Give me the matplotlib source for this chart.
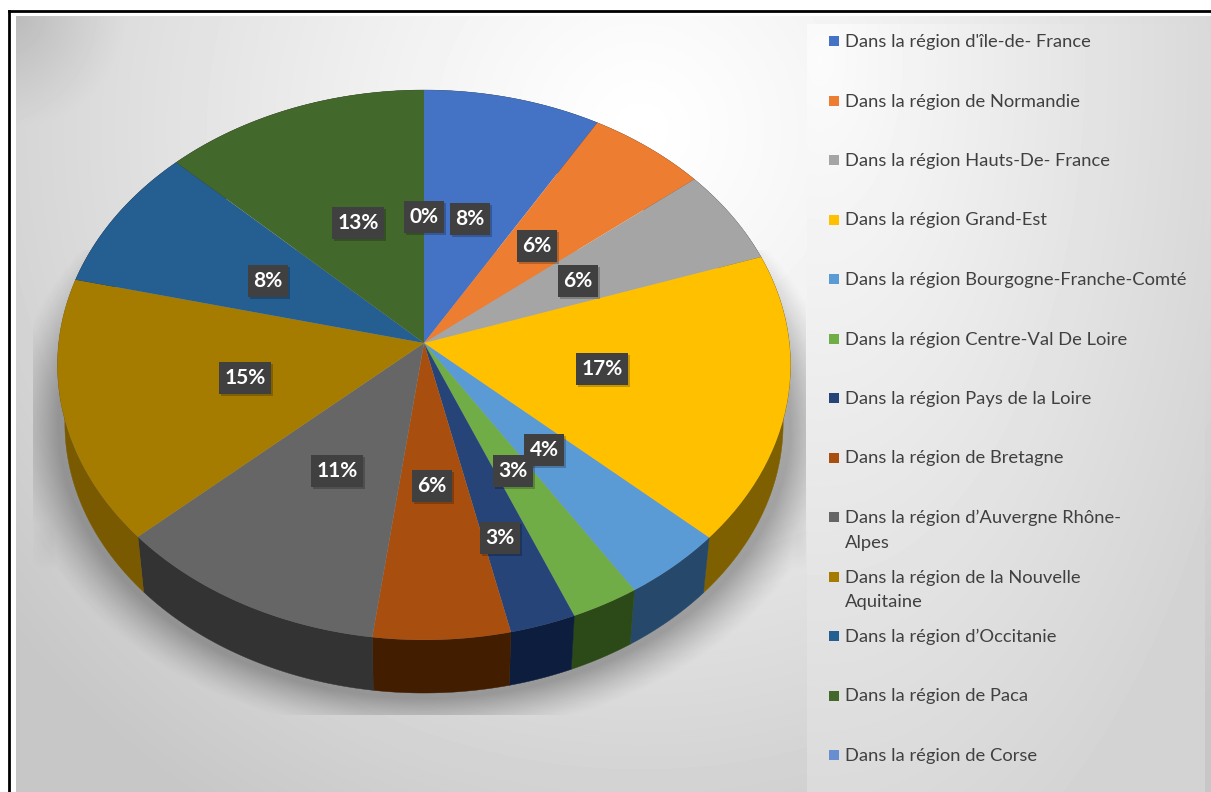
import numpy as np
import matplotlib
matplotlib.use('Agg')
import matplotlib.pyplot as plt
from matplotlib.transforms import Transform
from matplotlib.patches import Rectangle

# parts du camembert
regions = ["Dans la région d'île-de- France", 'Dans la région de Normandie',
           'Dans la région Hauts-De- France', 'Dans la région Grand-Est',
           'Dans la région Bourgogne-Franche-Comté', 'Dans la région Centre-Val De Loire',
           'Dans la région Pays de la Loire', 'Dans la région de Bretagne',
           'Dans la région d’Auvergne Rhône-\nAlpes', 'Dans la région de la Nouvelle\nAquitaine',
           'Dans la région d’Occitanie', 'Dans la région de Paca', 'Dans la région de Corse']
parts = [8.46, 5.7, 5.6, 17.0, 4.2, 2.8, 2.7, 5.6, 11.2, 15.5, 8.5, 12.7, 0.0]
etiquettes = ['8%', '6%', '6%', '17%', '4%', '3%', '3%', '6%', '11%', '15%', '8%', '13%', '0%']

couleurs = ['#4472c4', '#ed7d31', '#a5a5a5', '#ffc000', '#5b9bd5', '#70ad47', '#264478',
            '#a84f10', '#666666', '#a67c00', '#255e91', '#43682b', '#698ed0']
couleurs_cote = ['#223962', '#773f18', '#535353', '#7f6000', '#26486a', '#2b4a17', '#0c1d3d',
                 '#421d00', '#333333', '#7a5a00', '#132f49', '#223415', '#344768']
pos_etiquettes = [(470, 219), (537, 246), (578, 281), (602, 369), (544, 450), (513, 471), (500, 538),
                  (432, 486), (337, 471), (245, 378), (268, 281), (358, 223), (424, 217)]

W, H = 1211, 792
CX, CY = 424, 343


class Perspective(Transform):
    # disque unite -> pixels, plan incline (bas=True pour le dessous du camembert)
    input_dims = output_dims = 2

    def __init__(self, bas=False):
        super().__init__()
        self.bas = bas

    def transform_non_affine(self, xy):
        xy = np.asarray(xy, dtype=float)
        w = 1 + 0.08 * xy[:, 1]
        px = 365.3 * xy[:, 0] / w
        py = -273.2 * xy[:, 1] / w
        if self.bas:
            px = px * 0.98
            py = py * 0.98 + 59
        return np.column_stack([CX + px, CY + py])


fig = plt.figure(figsize=(W / 100, H / 100), dpi=100, facecolor='white')
ax = fig.add_axes([0, 0, 1, 1])

# fond degrade
yy, xx = np.mgrid[0:H, 0:W]
d = np.sqrt((xx - 640.0) ** 2 + (yy - 130.0) ** 2)
fond = np.clip(1.0 - 0.22 * (d / 800) ** 1.2, 0.78, 1)
# coin haut gauche plus sombre
fond -= 0.1 * np.clip(1 - np.sqrt((xx - 16.0) ** 2 + (yy - 16.0) ** 2) / 110, 0, 1)
ax.imshow(fond[16:H, 16:W], cmap='gray', vmin=0, vmax=1, extent=(16, W, H, 16), zorder=0, aspect='auto')

# panneau de la legende
x2, y2 = xx[24:H, 807:1205], yy[24:H, 807:1205]
r2 = np.sqrt(((x2 - 820.0) / 380) ** 2 + ((y2 - 60.0) / 740) ** 2)
panneau = np.clip(0.985 - 0.13 * r2, 0.83, 1)
ax.imshow(panneau, cmap='gray', vmin=0, vmax=1, extent=(807, 1205, H, 24), zorder=1, aspect='auto')

# ombre
r = np.sqrt(((xx - CX) / 366.0) ** 2 + ((yy - 424) / 274.0) ** 2)
alpha = 0.3 * np.clip((1.14 - r) / 0.14, 0, 1) ** 1.3
# coin d'ombre sur les cotes
demi = 365 + (yy - 280.0) * 27 / 240
coin = 0.16 * np.clip((demi - np.abs(xx - CX)) / 22, 0, 1) * np.clip((570 - yy) / 70.0, 0, 1)
coin *= np.clip((yy - 270) / 90.0, 0, 1)
alpha = np.maximum(alpha, coin)
ombre = np.zeros((H, W, 4))
ombre[..., 3] = alpha
ombre[:250, :, 3] = 0
ombre[715:, :, 3] = 0
ombre[:, :33, 3] = 0
ombre[:, 806:, 3] = 0
ax.imshow(ombre, extent=(0, W, H, 0), zorder=2, aspect='auto')

# cotes du camembert
dessus = Perspective()
dessous = Perspective(bas=True)
bornes = np.cumsum([0] + parts) / sum(parts)
for i in range(len(parts)):
    t = np.linspace(bornes[i], bornes[i + 1], 60) * 2 * np.pi
    cercle = np.column_stack([np.sin(t), np.cos(t)])
    a = dessus.transform(cercle)
    b = dessous.transform(cercle)[::-1]
    contour = np.vstack([a, b])
    ax.fill(contour[:, 0], contour[:, 1], color=couleurs_cote[i], lw=0.3, zorder=3)

# dessus
wedges, _ = ax.pie(parts, colors=couleurs, startangle=90, counterclock=False, radius=1,
                   wedgeprops={'linewidth': 0})
for w in wedges:
    w.set_transform(dessus + ax.transData)
    w.set_zorder(4)

ax.set_aspect('auto')
ax.set_xlim(0, W)
ax.set_ylim(H, 0)
ax.axis('off')

# etiquettes
for lab, (x, y) in zip(etiquettes, pos_etiquettes):
    ax.text(x + 2, y + 2, lab, family='Lato', fontsize=15, fontweight='bold', color='none',
            ha='center', va='center', zorder=5,
            bbox=dict(boxstyle='square,pad=0.27', fc='black', ec='none', alpha=0.22))
    ax.text(x, y, lab, family='Lato', fontsize=15, fontweight='bold', color='white',
            ha='center', va='center', zorder=6,
            bbox=dict(boxstyle='square,pad=0.27', fc='#404040', ec='none'))

# legende
for i, reg in enumerate(regions):
    y = 41 + 59.5 * i
    ax.add_patch(Rectangle((829, y - 5), 10, 10, fc=couleurs[i], ec='none', zorder=6))
    for k, ligne in enumerate(reg.split('\n')):
        ax.text(845, y + 1 + 25 * k, ligne, family='Lato', fontsize=13.2, color='#404040',
                ha='left', va='center', zorder=6)

# cadre noir
ax.plot([9, 9], [H, 11], color='black', lw=2, zorder=7, clip_on=False)
ax.plot([9, W], [11, 11], color='black', lw=2, zorder=7, clip_on=False)

fig.savefig('out.png', dpi=100)
